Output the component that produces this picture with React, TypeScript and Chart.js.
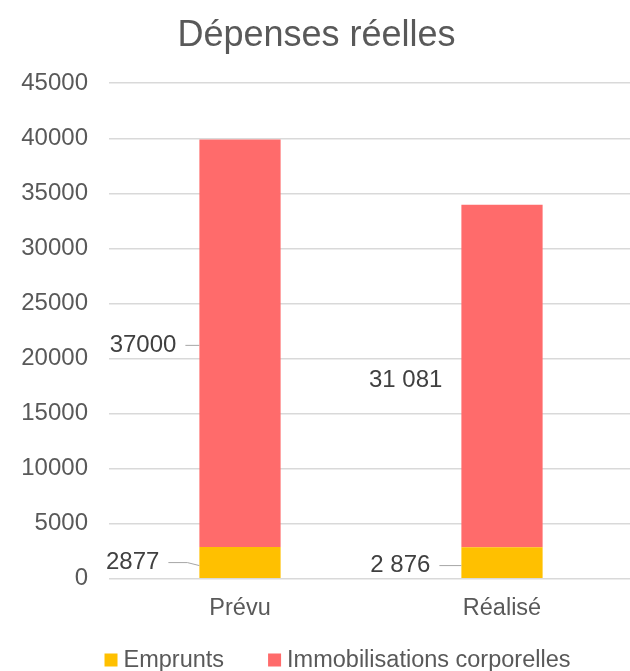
import React, { useEffect, useRef } from "react";
import { Chart, registerables } from "chart.js";

Chart.register(...registerables);

const categories = ["Prévu", "Réalisé"];
const seriesNames = ["Emprunts", "Immobilisations corporelles"];
const empruntsValues = [2877, 2876];
const immoValues = [37000, 31081];
const empruntsLabels = ["2877", "2 876"];
const immoLabels = ["37000", "31 081"];
const yTicks = [0, 5000, 10000, 15000, 20000, 25000, 30000, 35000, 40000, 45000];

const FONT = "'Liberation Sans', Arial, sans-serif";
const COLORS = ["#FFC000", "#FF6B6B"];

// label style per dataset / per point: gap from bar left, dy offset, leader style
const labelStyles = [
  [
    { gap: 40, dy: 0, leader: "bend" },
    { gap: 31, dy: 3, leader: "straight" },
  ],
  [
    { gap: 23, dy: 2, leader: "straight" },
    { gap: 19, dy: 4, leader: "none" },
  ],
];
const labelTexts = [empruntsLabels, immoLabels];

const dataLabelPlugin = {
  id: "dataLabelsCustom",
  afterDatasetsDraw(chart: any) {
    const ctx = chart.ctx;
    ctx.save();
    ctx.font = `24px ${FONT}`;
    ctx.textAlign = "right";
    ctx.textBaseline = "middle";
    chart.data.datasets.forEach((ds: any, di: number) => {
      const meta = chart.getDatasetMeta(di);
      meta.data.forEach((el: any, i: number) => {
        const p = el.getProps(["x", "y", "base", "width"], true);
        const st = labelStyles[di][i];
        const left = p.x - p.width / 2;
        const ty = (p.y + p.base) / 2 + st.dy;
        const tx = left - st.gap;
        ctx.fillStyle = "#404040";
        ctx.fillText(labelTexts[di][i], tx, ty);
        if (st.leader !== "none") {
          ctx.strokeStyle = "#a6a6a6";
          ctx.lineWidth = 1;
          ctx.beginPath();
          ctx.moveTo(tx + 9, ty);
          if (st.leader === "bend") {
            ctx.lineTo(left - 12, ty);
            ctx.lineTo(left, ty + 3);
          } else {
            ctx.lineTo(left, ty);
          }
          ctx.stroke();
        }
      });
    });
    ctx.restore();
  },
};

const legendPlugin = {
  id: "customLegend",
  afterDraw(chart: any) {
    const ctx = chart.ctx;
    ctx.save();
    ctx.font = `23.5px ${FONT}`;
    ctx.textBaseline = "middle";
    ctx.textAlign = "left";
    const box = 13;
    const gapBoxText = 6;
    const gapItems = 44;
    const items = chart.data.datasets.map((d: any) => ({
      text: d.label,
      color: d.backgroundColor,
      w: ctx.measureText(d.label).width,
    }));
    const total =
      items.reduce((s: number, it: any) => s + box + gapBoxText + it.w, 0) +
      gapItems * (items.length - 1);
    let x = 337.5 - total / 2;
    const y = chart.height - 11;
    items.forEach((it: any) => {
      ctx.fillStyle = it.color;
      ctx.fillRect(x, y - box / 2, box, box);
      x += box + gapBoxText;
      ctx.fillStyle = "#595959";
      ctx.fillText(it.text, x, y + 1);
      x += it.w + gapItems;
    });
    ctx.restore();
  },
};

export default function App() {
  const ref = useRef<HTMLCanvasElement>(null);
  useEffect(() => {
    document.body.style.margin = "0";
    const chart = new Chart(ref.current as HTMLCanvasElement, {
      type: "bar",
      data: {
        labels: categories,
        datasets: [
          {
            label: seriesNames[0],
            data: empruntsValues,
            backgroundColor: COLORS[0],
            barPercentage: 0.31,
            categoryPercentage: 1,
          },
          {
            label: seriesNames[1],
            data: immoValues,
            backgroundColor: COLORS[1],
            barPercentage: 0.31,
            categoryPercentage: 1,
          },
        ],
      },
      options: {
        responsive: false,
        animation: false,
        layout: { padding: { left: 0, right: 32, top: 0, bottom: 32 } },
        plugins: {
          legend: { display: false },
          tooltip: { enabled: false },
          title: {
            display: true,
            text: "Dépenses réelles",
            color: "#595959",
            font: { size: 36, family: FONT, weight: "normal" },
            padding: { top: 14, bottom: 26 },
          },
        },
        scales: {
          x: {
            stacked: true,
            grid: { display: false, drawTicks: false },
            border: { display: false },
            ticks: {
              color: "#595959",
              font: { size: 23.5, family: FONT },
              padding: 16,
            },
          },
          y: {
            stacked: true,
            min: yTicks[0],
            max: yTicks[yTicks.length - 1],
            afterFit: (s: any) => {
              s.width = 109;
            },
            afterBuildTicks: (s: any) => {
              s.ticks = yTicks.map((v) => ({ value: v }));
            },
            grid: { color: "#d9d9d9", lineWidth: 1.5, drawTicks: false },
            border: { display: false },
            ticks: {
              color: "#595959",
              font: { size: 24, family: FONT },
              padding: 21,
              callback: (v: any) => String(v),
            },
          },
        },
      },
      plugins: [dataLabelPlugin, legendPlugin],
    });
    return () => chart.destroy();
  }, []);
  return (
    <div style={{ width: 630, height: 671, overflow: "hidden" }}>
      <canvas ref={ref} width={665} height={671} style={{ display: "block" }} />
    </div>
  );
}
